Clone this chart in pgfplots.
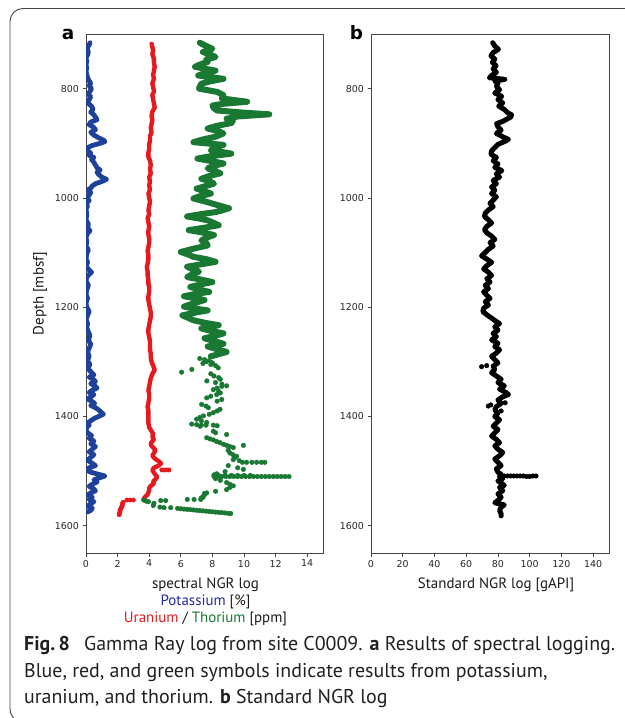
\documentclass[border=0pt]{standalone}
\usepackage{fontspec}
\usepackage{pgfplots}
\pgfplotsset{compat=1.18}
\setmainfont{PT Sans}
\newfontfamily\djv{DejaVu Sans}
\definecolor{kblue}{RGB}{30,65,155}
\definecolor{ured}{RGB}{232,25,30}
\definecolor{thgreen}{RGB}{25,120,50}
\definecolor{potblue}{RGB}{40,40,160}
\definecolor{captxt}{RGB}{35,31,32}
\definecolor{spine}{RGB}{70,70,70}

\pgfplotstableread{
d v
716 7.2
722 7.6
727 8.0
733 7.4
738 7.9
742 8.2
747 7.6
751 7.7
756 7.2
760 6.9
764 7.6
767 8.2
772 7.5
776 7.1
779 7.9
782 8.7
787 7.8
791 7.3
796 7.2
800 7.15
806 8.3
812 8.7
818 8.6
821 9.4
824 10.2
828 8.6
831 8.0
836 8.1
840 8.3
844 10.0
847 11.6
851 9.6
855 8.9
859 9.3
863 9.2
868 8.3
873 7.7
878 8.4
882 8.7
888 8.2
893 7.4
898 6.8
903 8.7
908 8.1
913 7.9
916 8.6
919 9.2
924 7.8
928 7.05
933 8.0
937 8.7
942 8.0
946 7.7
951 8.2
955 8.5
960 7.8
965 7.3
969 7.8
974 8.1
979 7.5
983 7.0
988 7.5
992 7.9
997 7.2
1001 6.8
1007 7.6
1013 8.3
1019 9.05
1023 8.6
1026 8.2
1030 7.2
1034 6.4
1038 7.2
1041 7.7
1046 8.1
1050 8.4
1055 7.4
1059 6.5
1064 7.5
1068 8.1
1073 7.6
1078 7.3
1082 7.6
1087 7.7
1093 6.8
1099 6.0
1104 6.5
1108 6.8
1112 7.6
1117 8.2
1122 7.2
1126 6.4
1131 6.8
1135 7.15
1140 6.7
1145 6.4
1149 7.2
1154 8.0
1158 7.3
1163 6.6
1168 7.2
1172 7.8
1176 6.9
1180 6.2
1184 7.0
1187 7.5
1193 6.8
1199 6.2
1203 7.0
1206 7.7
1210 6.9
1215 6.1
1220 6.5
1224 6.8
1229 7.6
1233 8.4
1239 7.3
1244 8.0
1248 8.7
1253 8.1
1257 7.5
1262 8.1
1267 8.7
1272 7.7
1277 8.3
1282 8.9
1286 8.4
1290 7.9
}\thline

\pgfplotstableread{
d v
1294 7.2
1296 7.5
1298 7.8
1300 7.6
1302 8.0
1303 7.4
1305 7.9
1307 8.2
1319 6.05
1314 6.7
1311 8.37
1322 7.9
1326 8.1
1329 8.4
1332 8.5
1335 7.65
1338 8.2
1341 8.6
1344 8.9
1345 8.6
1348 8.3
1351 8.06
1354 8.4
1357 8.5
1360 8.27
1363 7.9
1366 7.64
1369 8.59
1372 8.3
1378 7.32
1381 7.6
1384 7.74
1387 8.48
1390 8.3
1393 8.06
1396 7.8
1399 7.43
1402 7.2
1405 7.0
1408 7.3
1411 7.64
1414 6.69
1415 7.0
1416 7.3
1416 7.6
1416 8.06
1417 8.3
1418 7.22
1427 8.06
1430 8.2
1433 8.9
1439 7.64
1441 7.85
1443 8.06
1446 8.27
1448 8.48
1451 8.7
1453 8.9
1455 9.1
1457 9.32
1453 9.96
1462 9.0
1467 9.11
1470 9.3
1473 9.53
1476 9.4
1479 9.32
1481 9.7
1484 9.9
1484 10.16
1484 10.5
1484 10.8
1484 11.1
1484 11.32
1490 9.0
1494 9.6
1497 9.96
1501 8.8
1505 8.27
1507 8.1
1508 8.4
1508 8.8
1508 9.2
1508 9.6
1508 10.0
1508 10.4
1510 8.1
1510 8.35
1510 8.6
1510 8.85
1510 9.1
1510 9.35
1510 9.6
1510 9.85
1510 10.1
1510 10.35
1510 10.6
1510 10.85
1510 11.1
1510 11.35
1510 11.6
1510 11.85
1510 12.1
1510 12.35
1510 12.6
1510 12.85
1514 8.2
1517 8.5
1521 8.9
1524 9.1
1527 9.32
1530 9.1
1534 8.9
1537 8.2
1540 7.64
1543 7.5
1546 7.43
1549 7.3
1541 7.5
1548 7.4
1552 6.41
1552 6.84
1552 7.26
1553 3.65
1555 3.8
1556 3.95
1554 4.73
1554 5.04
1559 4.3
1563 4.26
1566 4.68
1567 4.94
1567 5.36
1568.5 5.8
1569 6.0
1569.6 6.2
1570.1 6.4
1570.7 6.6
1571.2 6.8
1571.8 7.0
1572.3 7.2
1572.9 7.4
1573.4 7.6
1574.0 7.8
1574.5 8.0
1575.1 8.2
1575.6 8.4
1576.2 8.6
1576.7 8.8
1577.3 9.0
1577.7 9.16
}\thpts

\pgfplotstableread{
d v
718 4.15
724 4.2
730 4.25
737 4.2
745 4.3
752 4.3
760 4.35
767 4.3
775 4.25
782 4.3
790 4.2
797 4.25
805 4.3
812 4.2
820 4.25
827 4.3
835 4.35
842 4.2
850 4.15
857 4.2
865 4.15
872 4.1
880 4.15
887 4.05
895 4.05
902 4.0
910 4.0
917 3.95
925 3.95
932 4.05
940 4.1
947 4.05
955 4.1
962 4.0
970 4.05
977 4.0
985 4.05
992 3.95
1000 4.0
1007 4.05
1015 4.0
1022 3.95
1030 4.0
1037 3.9
1045 3.95
1052 4.0
1060 3.95
1067 3.95
1075 4.0
1082 4.0
1090 3.95
1097 3.9
1105 3.95
1112 3.95
1120 3.9
1127 3.85
1135 3.9
1142 3.9
1150 3.95
1157 3.95
1165 4.0
1172 4.0
1180 3.95
1187 3.95
1195 4.0
1202 4.05
1210 4.1
1217 4.1
1225 4.05
1232 4.0
1240 3.95
1247 3.95
1255 4.0
1262 4.05
1270 4.05
1277 4.05
1285 4.1
1292 4.1
1300 4.15
1307 4.25
1315 4.35
1322 4.2
1330 4.1
1337 4.05
1345 4.0
1352 3.95
1360 4.0
1367 4.0
1375 3.95
1382 3.9
1390 3.95
1397 3.95
1405 3.95
1412 3.95
1420 4.0
1427 4.15
1432 4.25
1437 4.2
1442 4.3
1447 4.15
1452 4.1
1457 4.25
1462 4.4
1467 4.3
1472 4.2
1477 4.35
1482 4.6
1486 4.75
1490 4.6
1494 4.3
1498 4.2
1503 4.3
1507 4.4
1511 4.5
1515 4.4
1519 4.25
1523 4.3
1527 4.1
1531 4.0
1535 4.0
1539 3.95
1543 3.9
1547 3.75
1551 3.65
}\uline

\pgfplotstableread{
d v
1498 4.8
1498 4.95
1498 5.1
1498 5.25
1553 2.6
1553 2.8
1553 3.0
1557 2.35
1560 2.3
1563 2.3
1566 2.25
1569 2.2
1572 2.15
1575 2.15
1578 2.1
1580 2.1
}\upts

\pgfplotstableread{
d v
716 0.25
720 0.2
724 0.1
728 0.08
733 0.15
738 0.1
744 0.0
750 0.05
756 0.0
762 0.05
768 0.0
774 0.05
780 0.1
786 0.2
790 0.3
795 0.2
800 0.35
805 0.25
810 0.15
815 0.3
820 0.2
826 0.1
832 0.35
838 0.45
843 0.3
848 0.5
852 0.6
857 0.7
861 0.3
866 0.2
870 0.45
875 0.6
880 0.3
885 0.5
890 0.8
894 1.1
897 1.2
900 0.9
904 0.4
908 0.1
913 0.05
918 0.3
922 0.2
926 0.5
930 0.35
935 0.5
940 0.6
945 0.7
949 0.9
953 0.7
957 0.8
962 1.0
966 1.3
970 1.0
974 0.6
978 0.4
982 0.3
986 0.1
990 0.3
995 0.2
1000 0.05
1005 0.2
1010 0.0
1015 0.1
1020 0.0
1030 0.05
1040 0.0
1048 0.15
1055 0.1
1060 0.25
1065 0.1
1072 0.0
1080 0.05
1088 0.0
1095 0.15
1102 0.05
1110 0.0
1118 0.1
1125 0.0
1132 0.2
1136 0.35
1140 0.2
1145 0.05
1152 0.0
1160 0.15
1168 0.05
1176 0.0
1184 0.1
1192 0.0
1200 0.05
1208 0.2
1215 0.1
1222 0.0
1230 0.1
1238 0.05
1245 0.15
1252 0.25
1260 0.15
1268 0.3
1275 0.2
1282 0.1
1290 0.2
1298 0.1
1305 0.25
1312 0.1
1318 0.3
1324 0.5
1328 0.2
1332 0.45
1336 0.6
1340 0.3
1344 0.55
1348 0.7
1352 0.4
1356 0.2
1360 0.5
1364 0.3
1368 0.1
1372 0.35
1376 0.55
1380 0.3
1384 0.6
1388 0.8
1392 0.95
1396 1.1
1400 0.8
1404 0.5
1408 0.3
1412 0.1
1416 0.2
1420 0.05
1425 0.0
1430 0.1
1435 0.35
1440 0.2
1445 0.5
1450 0.3
1455 0.6
1460 0.4
1465 0.2
1470 0.5
1475 0.3
1480 0.1
1485 0.35
1490 0.6
1494 0.2
1498 0.0
1502 0.3
1506 0.8
1509 1.2
1512 0.9
1516 0.5
1520 0.7
1524 0.4
1528 0.2
1532 0.45
1536 0.6
1540 0.3
1544 0.1
1548 0.4
1552 0.2
1556 0.5
1560 0.3
1564 0.1
1568 0.4
1572 0.3
1575 0.1
}\kline

\pgfplotstableread{
d v
716 76.7
722 78
728 80.3
734 77
740 75.6
746 78
752 76.5
758 78.8
764 77
770 79
776 76
780 74.6
783 84.3
786 78
790 80
796 79
802 81
808 78
814 82.4
820 80
826 83
832 80.5
838 84
844 86
848 88.6
852 88
856 85.5
860 83
864 79.2
870 80
876 82
882 79
888 83
893 86.6
897 84
902 80
908 78
914 76
920 75.6
926 79
932 77
938 80
944 78
950 82.4
956 79
962 81
968 77
974 79
980 76
986 78
992 76
998 79
1004 77
1010 75
1016 77
1022 74
1028 72
1034 71.5
1040 74
1046 76
1052 73
1058 71.5
1064 73
1070 76
1076 78
1082 75
1088 77
1094 74
1100 72
1106 69.7
1112 73
1118 76
1124 73
1130 71
1136 74
1142 76
1148 73
1154 75
1160 72
1166 74
1172 71
1178 73
1184 75
1190 72
1196 74
1202 71
1208 70.5
1214 73
1220 76
1226 78.8
1230 81
1236 78
1242 80
1248 77
1254 79
1260 76
1266 80
1272 78
1278 81
1284 79
1290 76
1296 78
1302 80
1308 77
1314 78
1320 76
1326 79
1332 82
1338 80
1344 84
1350 81
1356 85
1360 86.6
1364 83
1370 80
1376 82
1382 79
1388 78
1394 80
1400 78
1406 81
1412 79
1418 77
1424 80
1430 78
1436 76
1442 79
1448 81
1454 78
1460 80
1466 83
1472 81
1478 78
1484 80
1490 82
1496 79
1502 80
1506 82
1510 81
1514 83
1518 80
1522 82
1526 84
1530 81
1536 83
1542 80
1548 82
1554 80
1558 78
1562 84
1566 82
1572 81
1578 82
1582 82
}\ngrline

\pgfplotstableread{
d v
1309 69.7
1307 72.9
1381 73.9
1379 75.5
1375 84.5
1390 82
1509 84
1509 86
1509 88
1509 90
1509 92
1509 94
1509 96
1510 98
1510 100
1509 102
1509 104
}\ngrpts

\pgfplotsset{
  loga/.style={
    scale only axis, anchor=north west,
    height=519bp,
    y dir=reverse, ymin=700, ymax=1650,
    ytick={800,1000,1200,1400,1600},
    tick align=outside, tick pos=left,
    major tick length=3.5bp,
    axis line style={draw=spine, line width=0.8bp},
    tick style={draw=spine, line width=0.8bp},
    /pgf/number format/1000 sep={},
    /pgf/number format/assume math mode=true,
    ticklabel style={font=\djv\fontsize{9.5}{11}\selectfont, text=black!85},
    clip=true,
  },
}

\begin{document}
\begin{tikzpicture}[x=1bp,y=1bp]
\path[use as bounding box] (0,0) rectangle (625,-718);
\begin{scope}
\clip (0,0) rectangle (625,-718);
\draw[spine, line width=0.9bp, rounded corners=13bp] (10,-8.5) rectangle (680,-722);
\end{scope}

\begin{axis}[loga, at={(86bp,-34bp)}, width=237bp,
  xmin=0, xmax=15, xtick={0,2,...,14}]
\addplot[kblue, line width=4.8bp, line join=round, line cap=round] table[x=v,y=d] {\kline};
\addplot[ured, line width=4.4bp, line join=round, line cap=round] table[x=v,y=d] {\uline};
\addplot[only marks, mark=*, mark size=2.2bp, ured, mark options={draw=none, fill=ured}] table[x=v,y=d] {\upts};
\addplot[thgreen, line width=6bp, line join=round, line cap=round] table[x=v,y=d] {\thline};
\addplot[only marks, mark=*, mark size=2.3bp, thgreen, mark options={draw=none, fill=thgreen}] table[x=v,y=d] {\thpts};
\end{axis}

\begin{axis}[loga, at={(371bp,-34bp)}, width=238bp,
  xmin=0, xmax=150, xtick={0,20,...,140}]
\addplot[black, line width=5bp, line join=round, line cap=round] table[x=v,y=d] {\ngrline};
\addplot[only marks, mark=*, mark size=2.3bp, black, mark options={draw=none, fill=black}] table[x=v,y=d] {\ngrpts};
\end{axis}

\node[anchor=base, font=\djv\bfseries\fontsize{18.5}{20}\selectfont] at (68,-40) {a};
\node[anchor=base, font=\djv\bfseries\fontsize{18.5}{20}\selectfont] at (356.5,-40) {b};

\begin{scope}[every node/.style={font=\fontsize{15}{17}\selectfont, text=black!90}]
\node[anchor=base] at (205.5,-588) {spectral NGR log};
\node[anchor=base] at (205.5,-605) {\textcolor{potblue}{Potassium} [\%]};
\node[anchor=base] at (205.5,-622) {\textcolor{ured}{Uranium} / \textcolor{thgreen}{Thorium} [ppm]};
\node[anchor=base] at (496,-588) {Standard NGR log [gAPI]};
\node[rotate=90] at (40,-293.5) {Depth [mbsf]};
\end{scope}

\begin{scope}[every node/.style={font=\fontsize{20}{22}\selectfont, text=captxt, anchor=base west, inner sep=0pt}]
\node at (24,-650) {\textbf{Fig.\,8}\hspace{0.45em} Gamma Ray log from site C0009. \textbf{a} Results of spectral logging.};
\node at (24,-677) {Blue, red, and green symbols indicate results from potassium,};
\node at (24,-703) {uranium, and thorium. \textbf{b} Standard NGR log};
\end{scope}
\end{tikzpicture}
\end{document}
